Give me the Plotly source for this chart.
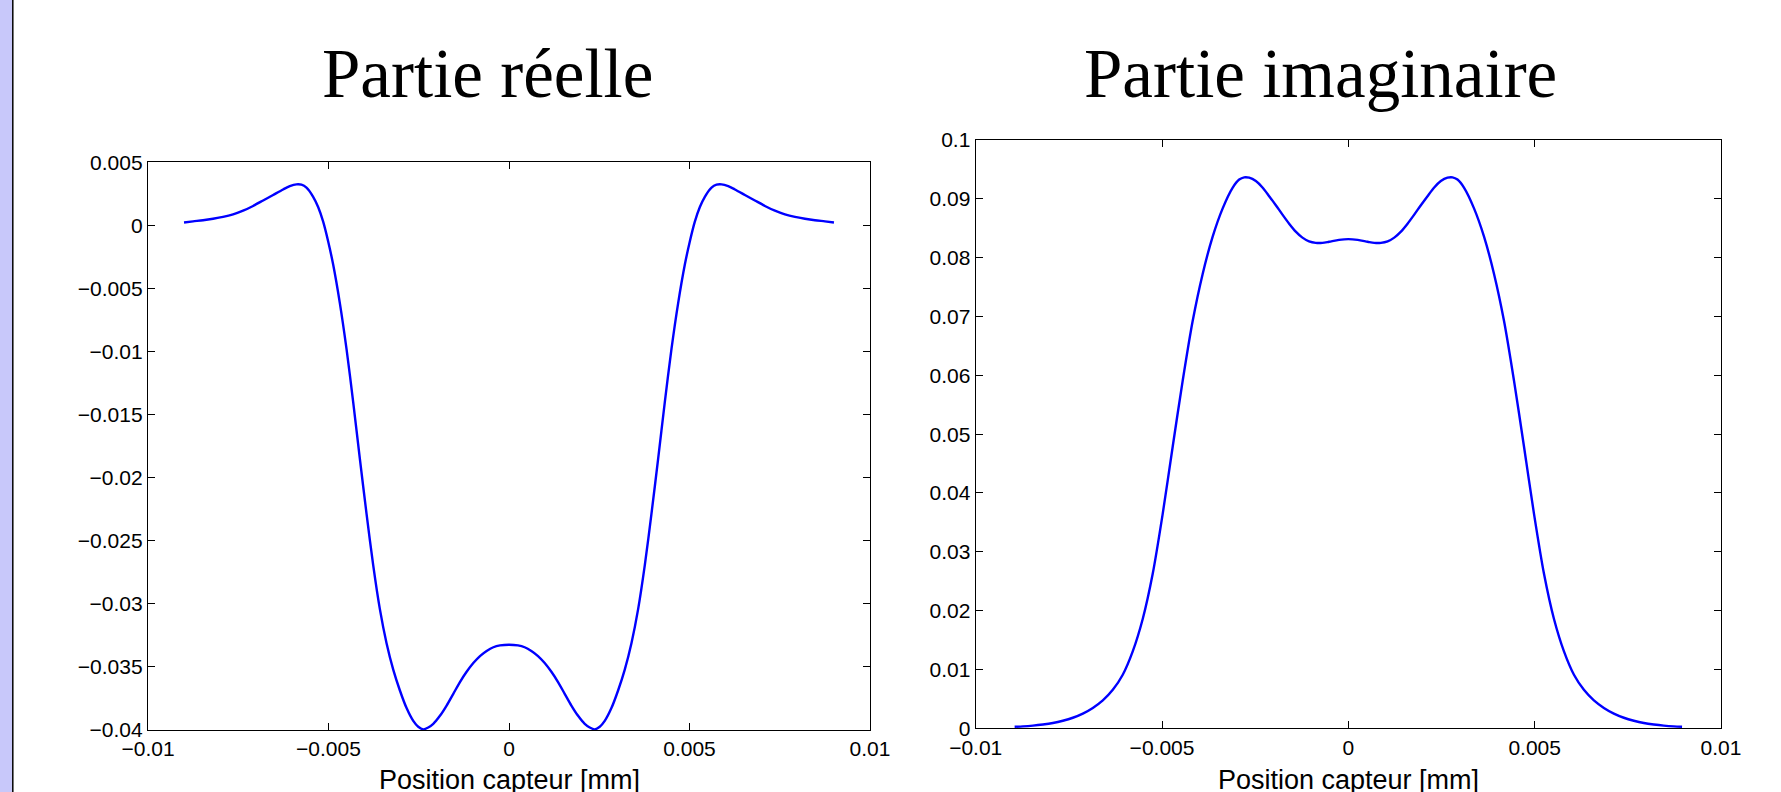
import plotly.graph_objects as go

# ---------------- data ----------------
# Partie réelle
x_real = [-0.009002, -0.008752, -0.008475, -0.008198, -0.007921, -0.007643, -0.007366, -0.007089,
          -0.006811, -0.006534, -0.006257, -0.006072, -0.005887, -0.005749, -0.005610, -0.005425,
          -0.005287, -0.005148, -0.005009, -0.004871, -0.004686, -0.004501, -0.004316, -0.004131,
          -0.003946, -0.003762, -0.003577, -0.003392, -0.003207, -0.003022, -0.002837, -0.002652,
          -0.002514, -0.002375, -0.002237, -0.002098, -0.001913, -0.001728, -0.001543, -0.001359,
          -0.001174, -0.000989, -0.000804, -0.000619, -0.000434, -0.000249, 0.0,
          0.000249, 0.000434, 0.000619, 0.000804, 0.000989, 0.001174, 0.001359, 0.001543,
          0.001728, 0.001913, 0.002098, 0.002237, 0.002375, 0.002514, 0.002652, 0.002837,
          0.003022, 0.003207, 0.003392, 0.003577, 0.003762, 0.003946, 0.004131, 0.004316,
          0.004501, 0.004686, 0.004871, 0.005009, 0.005148, 0.005287, 0.005425, 0.005610,
          0.005749, 0.005887, 0.006072, 0.006257, 0.006534, 0.006811, 0.007089, 0.007366,
          0.007643, 0.007921, 0.008198, 0.008475, 0.008752, 0.009002]
y_real = [0.000232, 0.000320, 0.000407, 0.000523, 0.000668, 0.000872, 0.001162, 0.001540,
          0.001976, 0.002411, 0.002847, 0.003109, 0.003254, 0.003225, 0.002992, 0.002266,
          0.001453, 0.000291, -0.001278, -0.003109, -0.006159, -0.009791, -0.014003, -0.018507,
          -0.022865, -0.026932, -0.030418, -0.033120, -0.035212, -0.036868, -0.038263, -0.039280,
          -0.039745, -0.039948, -0.039803, -0.039512, -0.038873, -0.038059, -0.037130, -0.036200,
          -0.035386, -0.034689, -0.034137, -0.033730, -0.033440, -0.033295, -0.033237,
          -0.033295, -0.033440, -0.033730, -0.034137, -0.034689, -0.035386, -0.036200, -0.037130,
          -0.038059, -0.038873, -0.039512, -0.039803, -0.039948, -0.039745, -0.039280, -0.038263,
          -0.036868, -0.035212, -0.033120, -0.030418, -0.026932, -0.022865, -0.018507, -0.014003,
          -0.009791, -0.006159, -0.003109, -0.001278, 0.000291, 0.001453, 0.002266, 0.002992,
          0.003225, 0.003254, 0.003109, 0.002847, 0.002411, 0.001976, 0.001540, 0.001162,
          0.000872, 0.000668, 0.000523, 0.000407, 0.000320, 0.000232]

# Partie imaginaire
x_imag = [-0.008955, -0.008732, -0.008464, -0.008196, -0.007929, -0.007661, -0.007393, -0.007125,
          -0.006857, -0.006589, -0.006321, -0.006054, -0.005786, -0.005518, -0.005250, -0.004982,
          -0.004714, -0.004446, -0.004179, -0.003911, -0.003643, -0.003375, -0.003107, -0.002929,
          -0.002795, -0.002661, -0.002482, -0.002304, -0.002125, -0.001946, -0.001768, -0.001589,
          -0.001411, -0.001232, -0.001054, -0.000875, -0.000696, -0.000518, -0.000250, 0.0,
          0.000250, 0.000518, 0.000696, 0.000875, 0.001054, 0.001232, 0.001411, 0.001589,
          0.001768, 0.001946, 0.002125, 0.002304, 0.002482, 0.002661, 0.002795, 0.002929,
          0.003107, 0.003375, 0.003643, 0.003911, 0.004179, 0.004446, 0.004714, 0.004982,
          0.005250, 0.005518, 0.005786, 0.006054, 0.006321, 0.006589, 0.006857, 0.007125,
          0.007393, 0.007661, 0.007929, 0.008196, 0.008464, 0.008732, 0.008955]
y_imag = [0.000256, 0.000320, 0.000448, 0.000641, 0.000897, 0.001281, 0.001794, 0.002498,
          0.003459, 0.004741, 0.006534, 0.009097, 0.013068, 0.018578, 0.026265, 0.036451,
          0.047854, 0.059064, 0.069186, 0.077194, 0.083536, 0.088340, 0.091864, 0.093273,
          0.093657, 0.093593, 0.093017, 0.091928, 0.090454, 0.088917, 0.087315, 0.085778,
          0.084433, 0.083408, 0.082767, 0.082511, 0.082511, 0.082703, 0.083023, 0.083151,
          0.083023, 0.082703, 0.082511, 0.082511, 0.082767, 0.083408, 0.084433, 0.085778,
          0.087315, 0.088917, 0.090454, 0.091928, 0.093017, 0.093593, 0.093657, 0.093273,
          0.091864, 0.088340, 0.083536, 0.077194, 0.069186, 0.059064, 0.047854, 0.036451,
          0.026265, 0.018578, 0.013068, 0.009097, 0.006534, 0.004741, 0.003459, 0.002498,
          0.001794, 0.001281, 0.000897, 0.000641, 0.000448, 0.000320, 0.000256]

x_tickvals = [-0.01, -0.005, 0, 0.005, 0.01]
x_ticktext = ["\u22120.01", "\u22120.005", "0", "0.005", "0.01"]
yr_tickvals = [0.005, 0, -0.005, -0.01, -0.015, -0.02, -0.025, -0.03, -0.035, -0.04]
yr_ticktext = ["0.005", "0", "\u22120.005", "\u22120.01", "\u22120.015", "\u22120.02",
               "\u22120.025", "\u22120.03", "\u22120.035", "\u22120.04"]
yi_tickvals = [0, 0.01, 0.02, 0.03, 0.04, 0.05, 0.06, 0.07, 0.08, 0.09, 0.1]
yi_ticktext = ["0", "0.01", "0.02", "0.03", "0.04", "0.05", "0.06", "0.07", "0.08", "0.09", "0.1"]

titles = ["Partie r\u00e9elle", "Partie imaginaire"]
xlabel = "Position capteur [mm]"

# ---------------- figure ----------------
W, H = 1781, 792
def px(v):   # horizontal pixel -> paper
    return v / W
def py(v):   # vertical pixel from top -> paper
    return (H - v) / H

fig = go.Figure()
line = dict(color="#0000FF", width=2.4, shape="spline", smoothing=0.8)
fig.add_trace(go.Scatter(x=x_real, y=y_real, mode="lines", line=line,
                         xaxis="x", yaxis="y", showlegend=False))
fig.add_trace(go.Scatter(x=x_imag, y=y_imag, mode="lines", line=line,
                         xaxis="x2", yaxis="y2", showlegend=False))

tickfont = dict(family="Liberation Sans, Arial, sans-serif", size=21, color="black")
common = dict(showgrid=False, zeroline=False, showline=True, linecolor="black",
              linewidth=1.3, mirror="ticks", ticks="inside", ticklen=7,
              tickcolor="black", tickwidth=1, tickfont=tickfont, fixedrange=True,
              automargin=False)

fig.update_layout(
    width=W, height=H, autosize=False, margin=dict(l=0, r=0, t=0, b=0, pad=0),
    paper_bgcolor="white", plot_bgcolor="white",
    xaxis=dict(domain=[px(148), px(870)], range=[-0.01, 0.01], anchor="y",
               tickvals=x_tickvals, ticktext=x_ticktext, **common),
    yaxis=dict(domain=[py(730), py(162.3)], range=[-0.04, 0.005], anchor="x",
               tickvals=yr_tickvals, ticktext=yr_ticktext, **common),
    xaxis2=dict(domain=[px(975.7), px(1721)], range=[-0.01, 0.01], anchor="y2",
                tickvals=x_tickvals, ticktext=x_ticktext, **common),
    yaxis2=dict(domain=[py(728.3), py(140)], range=[0, 0.1], anchor="x2",
                tickvals=yi_tickvals, ticktext=yi_ticktext, **common),
)

titlefont = dict(family="Liberation Serif, Times New Roman, serif", size=69, color="black")
fig.add_annotation(text=titles[0], x=px(487), y=py(74), xref="paper", yref="paper",
                   xanchor="center", yanchor="middle", showarrow=False, font=titlefont)
fig.add_annotation(text=titles[1], x=px(1320), y=py(74), xref="paper", yref="paper",
                   xanchor="center", yanchor="middle", showarrow=False, font=titlefont)

labfont = dict(family="Liberation Sans, Arial, sans-serif", size=27, color="black")
fig.add_annotation(text=xlabel, x=px(509), y=py(780), xref="paper", yref="paper",
                   xanchor="center", yanchor="middle", showarrow=False, font=labfont)
fig.add_annotation(text=xlabel, x=px(1348), y=py(780), xref="paper", yref="paper",
                   xanchor="center", yanchor="middle", showarrow=False, font=labfont)

# left lavender strip with its dark border
fig.add_shape(type="rect", xref="paper", yref="paper", x0=0, x1=px(12), y0=0, y1=1,
              fillcolor="#C8C8FA", line=dict(width=0), layer="below")
fig.add_shape(type="line", xref="paper", yref="paper", x0=px(12.8), x1=px(12.8), y0=0, y1=1,
              line=dict(color="black", width=1.5))

page_fix = ("document.documentElement.style.margin='0';"
            "document.documentElement.style.overflow='hidden';"
            "document.body.style.margin='0';document.body.style.padding='0';"
            "document.body.style.overflow='hidden';")
fig.write_html("out.html", post_script=page_fix, config={"displayModeBar": False})
